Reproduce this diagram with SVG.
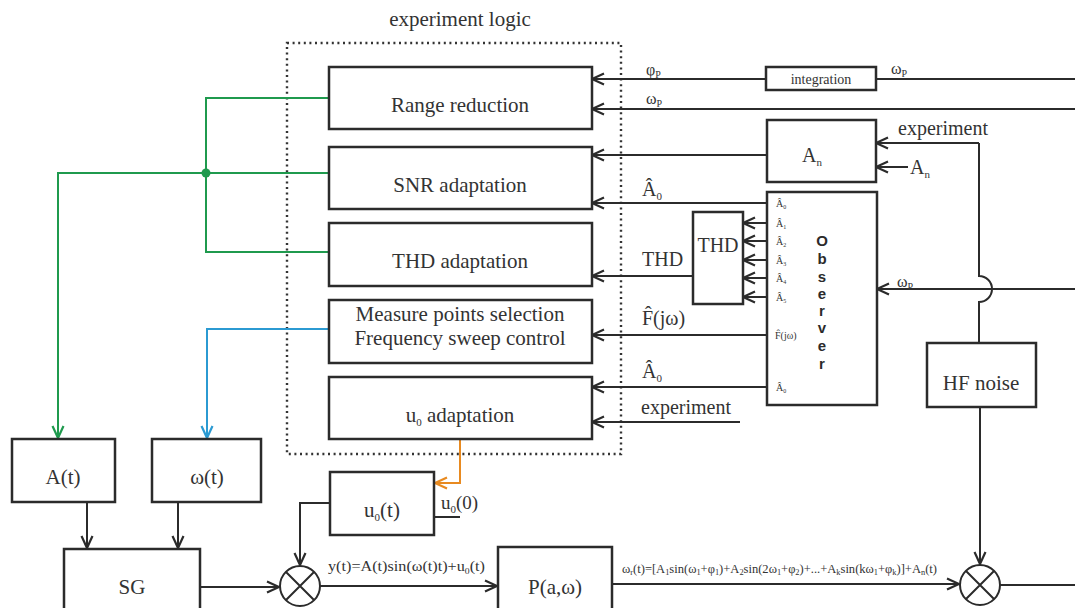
<svg xmlns="http://www.w3.org/2000/svg" width="1075" height="608" viewBox="0 0 1075 608">
<style>
text{font-family:"Liberation Serif","Times New Roman",serif;fill:#333}
.box{fill:#fff;stroke:#2b2b2b;stroke-width:2.5}
.ln{fill:none;stroke:#2b2b2b;stroke-width:2}
.g{fill:none;stroke:#1f9a4e;stroke-width:2}
.b{fill:none;stroke:#2b9ad2;stroke-width:2}
.o{fill:none;stroke:#e88a20;stroke-width:2}
.lbl{font-size:21px;text-anchor:middle}
.sm{font-size:16px}
.tiny{font-size:10px}
.obs{font-family:"Liberation Sans",Arial,sans-serif;font-weight:bold;font-size:15px;text-anchor:middle;fill:#2b2b2b}
</style>
<defs>
<marker id="ah" viewBox="-14 -8 16 16" refX="0" refY="0" markerWidth="16" markerHeight="16" markerUnits="userSpaceOnUse" orient="auto"><path d="M-12,-5.5 L0,0 L-12,5.5" fill="none" stroke="#2b2b2b" stroke-width="2.2"/></marker>
<marker id="ahg" viewBox="-14 -8 16 16" refX="0" refY="0" markerWidth="16" markerHeight="16" markerUnits="userSpaceOnUse" orient="auto"><path d="M-12,-5.5 L0,0 L-12,5.5" fill="none" stroke="#1f9a4e" stroke-width="2.2"/></marker>
<marker id="ahb" viewBox="-14 -8 16 16" refX="0" refY="0" markerWidth="16" markerHeight="16" markerUnits="userSpaceOnUse" orient="auto"><path d="M-12,-5.5 L0,0 L-12,5.5" fill="none" stroke="#2b9ad2" stroke-width="2.2"/></marker>
<marker id="aho" viewBox="-14 -8 16 16" refX="0" refY="0" markerWidth="16" markerHeight="16" markerUnits="userSpaceOnUse" orient="auto"><path d="M-12,-5.5 L0,0 L-12,5.5" fill="none" stroke="#e88a20" stroke-width="2.2"/></marker>
</defs>
<rect width="1075" height="608" fill="#fff"/>

<!-- experiment logic frame -->
<g id="experiment-logic">
<rect x="287" y="43" width="334" height="411" fill="none" stroke="#333" stroke-width="2.4" stroke-dasharray="2 3.6"/>
<text x="460" y="26" class="lbl" font-size="20">experiment logic</text>
</g>

<!-- connectors -->
<g id="connectors">
<path class="ln" d="M1075,79 H876 M766,79 H592" marker-end="url(#ah)"/>
<path class="ln" d="M1075,109 H592" marker-end="url(#ah)"/>
<path class="ln" d="M767,155 H592" marker-end="url(#ah)"/>
<path class="ln" d="M979,143 H876" marker-end="url(#ah)"/>
<path class="ln" d="M908,167 H876" marker-end="url(#ah)"/>
<path class="ln" d="M767,203 H592" marker-end="url(#ah)"/>
<path class="ln" d="M693,276 H592" marker-end="url(#ah)"/>
<path class="ln" d="M767,335 H592" marker-end="url(#ah)"/>
<path class="ln" d="M767,387 H592" marker-end="url(#ah)"/>
<path class="ln" d="M740,422 H592" marker-end="url(#ah)"/>
<path class="ln" d="M767,223 H743" marker-end="url(#ah)"/>
<path class="ln" d="M767,241 H743" marker-end="url(#ah)"/>
<path class="ln" d="M767,260 H743" marker-end="url(#ah)"/>
<path class="ln" d="M767,278 H743" marker-end="url(#ah)"/>
<path class="ln" d="M767,297 H743" marker-end="url(#ah)"/>
<path class="ln" d="M1075,289 H877" marker-end="url(#ah)"/>
<path class="ln" d="M979,143 V276 A13,13 0 0 1 979,302 V343"/>
<path class="ln" d="M980,407 V564" marker-end="url(#ah)"/>
<path class="g" d="M329,98 H206 V252 H329"/>
<path class="g" d="M329,173 H58 V438" marker-end="url(#ahg)"/>
<circle cx="206" cy="173" r="4.5" fill="#1f9a4e"/>
<path class="b" d="M329,329 H207 V438" marker-end="url(#ahb)"/>
<path class="o" d="M460,439 V483 H435" marker-end="url(#aho)"/>
<path class="ln" d="M87,502 V548" marker-end="url(#ah)"/>
<path class="ln" d="M178,502 V548" marker-end="url(#ah)"/>
<path class="ln" d="M200,587 H279" marker-end="url(#ah)"/>
<path class="ln" d="M330,503 H300 V565" marker-end="url(#ah)"/>
<path class="ln" d="M460,517 H434"/>
<path class="ln" d="M320,586 H497" marker-end="url(#ah)"/>
<path class="ln" d="M612,584 H959" marker-end="url(#ah)"/>
<path class="ln" d="M1000,585 H1075"/>
</g>

<!-- connector labels -->
<g id="labels">
<text x="646" y="75" class="sm">φ<tspan font-size="10" dy="3">P</tspan></text>
<text x="891" y="74" class="sm">ω<tspan font-size="10" dy="3">P</tspan></text>
<text x="646" y="104" class="sm">ω<tspan font-size="10" dy="3">P</tspan></text>
<text x="898" y="135" font-size="20">experiment</text>
<text x="910" y="174" font-size="20">A<tspan font-size="11" dy="4">n</tspan></text>
<text x="642" y="196" font-size="20">Â<tspan font-size="11" dy="4">0</tspan></text>
<text x="642" y="266" font-size="20">THD</text>
<text x="642" y="325" font-size="20">F̂(jω)</text>
<text x="642" y="378" font-size="20">Â<tspan font-size="11" dy="4">0</tspan></text>
<text x="641" y="414" font-size="20">experiment</text>
<text x="897" y="287" class="sm">ω<tspan font-size="10" dy="3">P</tspan></text>
<text x="441" y="509" font-size="19">u<tspan font-size="11" dy="4">0</tspan><tspan dy="-4">(0)</tspan></text>
<text x="328" y="571" font-size="15" textLength="157" lengthAdjust="spacingAndGlyphs">y(t)=A(t)sin(ω(t)t)+u<tspan font-size="9" dy="3">0</tspan><tspan dy="-3">(t)</tspan></text>
<text x="622" y="573" font-size="12" textLength="315" lengthAdjust="spacingAndGlyphs">ω<tspan font-size="8" dy="2">r</tspan><tspan dy="-2">(t)=[A</tspan><tspan font-size="8" dy="2">1</tspan><tspan dy="-2">sin(ω</tspan><tspan font-size="8" dy="2">1</tspan><tspan dy="-2">+φ</tspan><tspan font-size="8" dy="2">1</tspan><tspan dy="-2">)+A</tspan><tspan font-size="8" dy="2">2</tspan><tspan dy="-2">sin(2ω</tspan><tspan font-size="8" dy="2">1</tspan><tspan dy="-2">+φ</tspan><tspan font-size="8" dy="2">2</tspan><tspan dy="-2">)+...+A</tspan><tspan font-size="8" dy="2">k</tspan><tspan dy="-2">sin(kω</tspan><tspan font-size="8" dy="2">1</tspan><tspan dy="-2">+φ</tspan><tspan font-size="8" dy="2">k</tspan><tspan dy="-2">)]+A</tspan><tspan font-size="8" dy="2">n</tspan><tspan dy="-2">(t)</tspan></text>
</g>

<!-- experiment logic blocks -->
<g id="range-reduction"><rect class="box" x="329" y="67" width="263" height="62"/><text class="lbl" x="460" y="112">Range reduction</text></g>
<g id="snr-adaptation"><rect class="box" x="329" y="147" width="263" height="62"/><text class="lbl" x="460" y="192">SNR adaptation</text></g>
<g id="thd-adaptation"><rect class="box" x="329" y="223" width="263" height="63"/><text class="lbl" x="460" y="268">THD adaptation</text></g>
<g id="measure-points"><rect class="box" x="329" y="300" width="263" height="63"/><text class="lbl" x="460" y="321">Measure points selection</text><text class="lbl" x="460" y="345">Frequency sweep control</text></g>
<g id="u0-adaptation"><rect class="box" x="329" y="377" width="263" height="62"/><text class="lbl" x="460" y="422">u<tspan font-size="11" dy="4">0</tspan><tspan dy="-4"> adaptation</tspan></text></g>

<!-- right side blocks -->
<g id="integration"><rect class="box" x="766" y="67" width="110" height="23"/><text x="821" y="84" font-size="14" text-anchor="middle">integration</text></g>
<g id="an-block"><rect class="box" x="767" y="120" width="109" height="62"/><text x="812" y="162" font-size="20" text-anchor="middle">A<tspan font-size="11" dy="4">n</tspan></text></g>
<g id="thd-block"><rect class="box" x="693" y="212" width="50" height="92"/><text x="718" y="252" font-size="20" text-anchor="middle">THD</text></g>
<g id="observer"><rect class="box" x="767" y="192" width="110" height="213"/>
<text class="obs" x="822"><tspan x="822" y="246">O</tspan><tspan x="822" y="264">b</tspan><tspan x="822" y="282">s</tspan><tspan x="822" y="299">e</tspan><tspan x="822" y="316">r</tspan><tspan x="822" y="333">v</tspan><tspan x="822" y="351">e</tspan><tspan x="822" y="369">r</tspan></text>
<text x="776" y="207" class="tiny">Â<tspan font-size="6" dy="2">0</tspan></text>
<text x="776" y="227" class="tiny">Â<tspan font-size="6" dy="2">1</tspan></text>
<text x="776" y="245" class="tiny">Â<tspan font-size="6" dy="2">2</tspan></text>
<text x="776" y="264" class="tiny">Â<tspan font-size="6" dy="2">3</tspan></text>
<text x="776" y="282" class="tiny">Â<tspan font-size="6" dy="2">4</tspan></text>
<text x="776" y="301" class="tiny">Â<tspan font-size="6" dy="2">5</tspan></text>
<text x="775" y="339" class="tiny">F̂(jω)</text>
<text x="776" y="391" class="tiny">Â<tspan font-size="6" dy="2">0</tspan></text>
</g>
<g id="hf-noise"><rect class="box" x="927" y="343" width="109" height="64"/><text class="lbl" x="981" y="390">HF noise</text></g>

<!-- bottom blocks -->
<g id="a-t"><rect class="box" x="12" y="439" width="103" height="63"/><text class="lbl" x="63" y="484">A(t)</text></g>
<g id="omega-t"><rect class="box" x="152" y="439" width="109" height="63"/><text class="lbl" x="207" y="484">ω(t)</text></g>
<g id="sg"><rect class="box" x="64" y="549" width="136" height="70"/><text class="lbl" x="132" y="594">SG</text></g>
<g id="u0-t"><rect class="box" x="330" y="472" width="104" height="63"/><text class="lbl" x="382" y="517">u<tspan font-size="11" dy="4">0</tspan><tspan dy="-4">(t)</tspan></text></g>
<g id="sum1"><circle cx="300" cy="586" r="20" class="ln" fill="#fff" stroke-width="2.5"/><path class="ln" d="M286,572 L314,600 M314,572 L286,600" stroke-width="2.5"/></g>
<g id="plant"><rect class="box" x="498" y="547" width="114" height="70"/><text class="lbl" x="555" y="594">P(a,ω)</text></g>
<g id="sum2"><circle cx="980" cy="585" r="20" class="ln" fill="#fff" stroke-width="2.5"/><path class="ln" d="M966,571 L994,599 M994,571 L966,599" stroke-width="2.5"/></g>
</svg>
